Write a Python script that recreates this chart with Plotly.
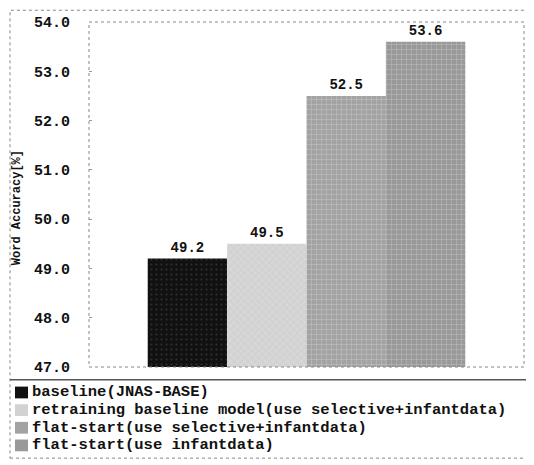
import plotly.graph_objects as go

categories = [""]
series_names = [
    "baseline(JNAS-BASE)",
    "retraining baseline model(use selective+infantdata)",
    "flat-start(use selective+infantdata)",
    "flat-start(use infantdata)",
]
series_values = [49.2, 49.5, 52.5, 53.6]
series_colors = ["#111111", "#d2d2d2", "#a3a3a3", "#999999"]
pattern_shapes = [".", "x", "+", "+"]
y_ticks = [47.0, 48.0, 49.0, 50.0, 51.0, 52.0, 53.0, 54.0]

# the page body adds an 8px margin at top/left; lay out in page pixels
OFF = 8
W, H = 534 - OFF, 465 - OFF
L, R, T, B = 89, 524, 15, 367  # plot area in page pixels


def fx(px):
    return (px - L) / (R - L)


def fy(py):
    return (B - py) / (B - T)


MONO = "Liberation Mono, DejaVu Sans Mono, monospace"

fig = go.Figure()
for name, val, col, shp in zip(series_names, series_values, series_colors, pattern_shapes):
    fig.add_trace(go.Bar(
        x=categories, y=[val], name=name,
        marker=dict(color=col, line=dict(width=0),
                    pattern=dict(shape=shp, fgcolor="#ffffff" if shp != "." else "#555555",
                                 bgcolor=col, size=5, solidity=0.15, fgopacity=0.45)),
        text=[f"{val:.1f}"], textposition="outside", cliponaxis=False,
        textfont=dict(family=MONO, size=14, color="#111111", weight="bold"),
        showlegend=False,
    ))

shapes = []
annotations = []
# outer dotted frame
shapes.append(dict(type="rect", xref="paper", yref="paper",
                   x0=fx(10), x1=fx(532), y0=fy(460), y1=fy(3),
                   line=dict(color="#888888", width=1, dash="dot")))
# plot area dotted frame
shapes.append(dict(type="rect", xref="paper", yref="paper",
                   x0=0, x1=1, y0=0, y1=1,
                   line=dict(color="#888888", width=1, dash="dot")))
# separator line above legend
shapes.append(dict(type="line", xref="paper", yref="paper",
                   x0=fx(10), x1=fx(532), y0=fy(380), y1=fy(380),
                   line=dict(color="#555555", width=1.5)))

# legend (swatch + text)
row_y = [393, 411, 429, 447]
for name, col, ry in zip(series_names, series_colors, row_y):
    shapes.append(dict(type="rect", xref="paper", yref="paper",
                       x0=fx(15), x1=fx(28), y0=fy(ry + 6), y1=fy(ry - 6),
                       fillcolor=col, line=dict(width=0)))
    annotations.append(dict(xref="paper", yref="paper", x=fx(30), y=fy(ry),
                            xanchor="left", yanchor="middle", showarrow=False,
                            text=name,
                            font=dict(family=MONO, size=15.5, color="#111111", weight="bold")))

# y-axis title
annotations.append(dict(xref="paper", yref="paper", x=fx(17), y=fy(205),
                        xanchor="center", yanchor="middle", showarrow=False,
                        text="Word Accuracy[%]", textangle=-90,
                        font=dict(family=MONO, size=12, color="#111111", weight="bold")))

fig.update_layout(
    width=W, height=H,
    margin=dict(l=L - OFF, r=534 - R, t=T - OFF, b=465 - B, pad=0),
    paper_bgcolor="white", plot_bgcolor="white",
    barmode="group", bargap=0.27, bargroupgap=0,
    shapes=shapes, annotations=annotations,
    showlegend=False,
    xaxis=dict(showticklabels=False, ticks="", showgrid=False, zeroline=False,
               showline=False, range=[-0.5, 0.5]),
    yaxis=dict(range=[47, 54], tickvals=y_ticks,
               ticktext=[f"{v:.1f}" for v in y_ticks],
               ticks="inside", ticklen=3, tickcolor="#999999",
               showgrid=False, zeroline=False, showline=False,
               ticklabelstandoff=18,
               tickfont=dict(family=MONO, size=15, color="#111111", weight="bold")),
)

fig.write_html("out.html")
